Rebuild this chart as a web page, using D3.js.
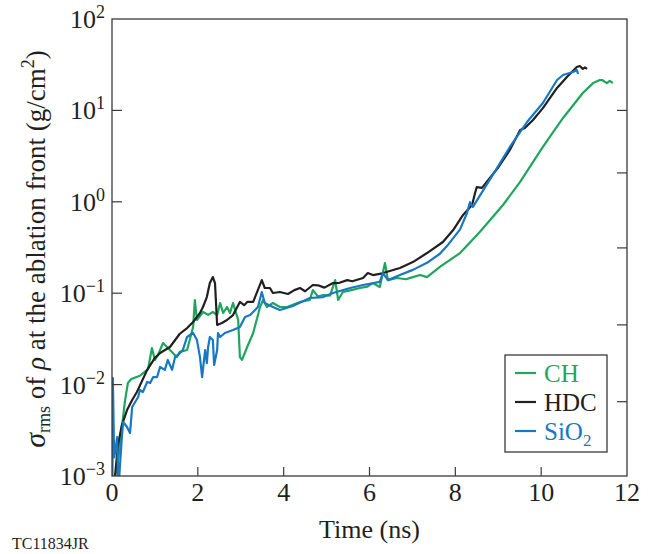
<!DOCTYPE html>
<html>
<head>
<meta charset="utf-8">
<script src="https://cdn.jsdelivr.net/npm/d3@7.9.0/dist/d3.min.js"></script>
<style>
  body { margin: 0; background: #fff; }
  svg text { font-family: "Liberation Serif", "DejaVu Serif", serif; fill: #231f20; }
  .frame { fill: none; stroke: #3a3a3a; stroke-width: 1.3; }
  .tick-mark { stroke: #3a3a3a; stroke-width: 1.2; }
  .series { fill: none; stroke-width: 2.2; stroke-linejoin: round; }
</style>
</head>
<body>
<div id="chart"></div>
<script>
// time (ns), sigma_rms (g/cm^2)
const hdcData = [
  [0.07, 0.001], [0.14, 0.00218], [0.23, 0.00361], [0.35, 0.00527], [0.47, 0.00679],
  [0.58, 0.0083], [0.82, 0.0145], [1.00, 0.0196], [1.12, 0.0222], [1.35, 0.0258],
  [1.58, 0.036], [1.75, 0.0416], [1.89, 0.0484], [2.05, 0.0607], [2.12, 0.0706],
  [2.21, 0.0908], [2.28, 0.129], [2.35, 0.150], [2.40, 0.129], [2.45, 0.0449],
  [2.56, 0.0472], [2.68, 0.0509], [2.82, 0.0577], [2.98, 0.0802], [3.08, 0.074],
  [3.15, 0.0802], [3.29, 0.0802], [3.49, 0.139], [3.56, 0.114], [3.68, 0.114],
  [3.75, 0.1005], [3.91, 0.103], [4.10, 0.098], [4.25, 0.108], [4.38, 0.114],
  [4.50, 0.105], [4.68, 0.123], [4.80, 0.122], [4.95, 0.115], [5.15, 0.129],
  [5.30, 0.130], [5.48, 0.139], [5.60, 0.135], [5.85, 0.1466], [5.96, 0.166],
  [6.08, 0.158], [6.30, 0.165], [6.55, 0.1795], [6.71, 0.189], [7.01, 0.219],
  [7.34, 0.275], [7.71, 0.363], [7.95, 0.491], [8.18, 0.718], [8.39, 0.923],
  [8.46, 1.25], [8.50, 1.45], [8.62, 1.42], [8.99, 2.34], [9.27, 3.69],
  [9.51, 6.11], [9.62, 6.41], [9.81, 7.85], [10.04, 10.6], [10.37, 17.6],
  [10.60, 23.2], [10.83, 29.8], [10.90, 30.6], [10.97, 28.5], [11.02, 29.5],
  [11.07, 28.5]
];

const sio2Data = [
  [0.01, 0.001], [0.02, 0.0118], [0.05, 0.0016], [0.07, 0.00179], [0.12, 0.00267],
  [0.14, 0.001], [0.17, 0.001], [0.23, 0.00267], [0.26, 0.0039], [0.35, 0.00344],
  [0.42, 0.00295], [0.47, 0.00569], [0.54, 0.00645], [0.61, 0.00731], [0.65, 0.00873],
  [0.72, 0.0083], [0.82, 0.0107], [0.89, 0.0104], [0.96, 0.0121], [1.05, 0.0121],
  [1.12, 0.0156], [1.23, 0.0145], [1.30, 0.0186], [1.40, 0.0145], [1.47, 0.0200],
  [1.58, 0.022], [1.65, 0.0239], [1.75, 0.0332], [1.89, 0.0367], [1.98, 0.0307],
  [2.05, 0.0200], [2.10, 0.0121], [2.17, 0.0239], [2.21, 0.0172], [2.24, 0.0258],
  [2.28, 0.0332], [2.35, 0.0307], [2.38, 0.0164], [2.45, 0.0239], [2.47, 0.0367],
  [2.52, 0.0332], [2.63, 0.0367], [2.82, 0.0396], [2.98, 0.0427], [3.10, 0.055],
  [3.22, 0.0577], [3.40, 0.0706], [3.49, 0.103], [3.56, 0.0782], [3.75, 0.0706],
  [3.91, 0.0655], [4.20, 0.072], [4.61, 0.0886], [4.92, 0.0908], [5.15, 0.1005],
  [5.55, 0.114], [5.85, 0.123], [6.24, 0.133], [6.31, 0.166], [6.43, 0.139],
  [6.71, 0.158], [7.01, 0.18], [7.34, 0.215], [7.64, 0.27], [7.81, 0.33],
  [8.11, 0.50], [8.27, 0.75], [8.34, 0.99], [8.41, 0.88], [8.97, 2.34],
  [9.27, 3.98], [9.67, 7.46], [10.04, 12.05], [10.37, 21.5], [10.51, 24.4],
  [10.74, 26.3], [10.83, 27.7], [10.86, 25.0]
];

const chData = [
  [0.07, 0.001], [0.12, 0.0012], [0.19, 0.0023], [0.26, 0.0045], [0.30, 0.0065],
  [0.37, 0.0104], [0.45, 0.0115], [0.65, 0.0125], [0.84, 0.0148], [0.93, 0.0251],
  [1.00, 0.0186], [1.07, 0.0211], [1.19, 0.0285], [1.35, 0.0239], [1.51, 0.0200],
  [1.58, 0.0228], [1.75, 0.0239], [1.89, 0.0427], [1.93, 0.0843], [1.98, 0.0509],
  [2.12, 0.0623], [2.24, 0.058], [2.35, 0.0623], [2.45, 0.0577], [2.52, 0.0782],
  [2.59, 0.0607], [2.68, 0.0706], [2.75, 0.0607], [2.82, 0.0782], [2.94, 0.0509],
  [2.98, 0.0200], [3.03, 0.0186], [3.15, 0.0258], [3.29, 0.0367], [3.45, 0.0706],
  [3.52, 0.0843], [3.61, 0.0706], [3.75, 0.0782], [3.91, 0.0706], [4.08, 0.0706],
  [4.38, 0.0802], [4.61, 0.0843], [4.68, 0.108], [4.80, 0.092], [4.92, 0.0955],
  [5.08, 0.094], [5.20, 0.139], [5.27, 0.0843], [5.38, 0.103], [5.50, 0.106],
  [5.78, 0.114], [5.95, 0.118], [6.08, 0.129], [6.24, 0.117], [6.36, 0.214],
  [6.43, 0.139], [6.64, 0.1466], [6.85, 0.142], [7.01, 0.150], [7.18, 0.158],
  [7.34, 0.150], [7.64, 0.194], [8.11, 0.275], [8.57, 0.468], [9.11, 0.923],
  [9.51, 1.65], [10.04, 3.98], [10.51, 8.26], [10.97, 15.5], [11.21, 19.9],
  [11.37, 21.5], [11.42, 21.5], [11.53, 19.9], [11.60, 21.0], [11.67, 19.9]
];

const xTicks = [0, 2, 4, 6, 8, 10, 12];
const yTickExps = [2, 1, 0, -1, -2, -3];
const rightTicks = [10, 2.07, 0.313, 0.045, 0.0065];
const legendLabels = ["CH", "HDC", "SiO"];
const seriesColors = ["#1ea65c", "#231f20", "#1878c3"];

const W = 651, H = 554;
const margin = { left: 112, right: 24, top: 19, bottom: 78 };
const iw = W - margin.left - margin.right;
const ih = H - margin.top - margin.bottom;

const svg = d3.select("#chart").append("svg")
  .attr("width", W)
  .attr("height", H);

const g = svg.append("g")
  .attr("transform", `translate(${margin.left},${margin.top})`);

const x = d3.scaleLinear().domain([0, 12]).range([0, iw]);
const y = d3.scaleLog().domain([1e-3, 1e2]).range([ih, 0]);

svg.append("clipPath").attr("id", "plotclip")
  .append("rect").attr("width", iw).attr("height", ih);

const line = d3.line()
  .x(d => x(d[0]))
  .y(d => y(d[1]));

const plot = g.append("g").attr("clip-path", "url(#plotclip)");
[chData, hdcData, sio2Data].forEach((data, i) => {
  plot.append("path")
    .attr("class", "series")
    .attr("stroke", seriesColors[i])
    .attr("d", line(data));
});

// frame
g.append("rect")
  .attr("class", "frame")
  .attr("width", iw)
  .attr("height", ih);

// bottom ticks (inward)
g.selectAll("line.xtick")
  .data(xTicks.slice(1, -1))
  .join("line")
  .attr("class", "tick-mark")
  .attr("x1", d => x(d)).attr("x2", d => x(d))
  .attr("y1", ih).attr("y2", ih - 9);

g.selectAll("text.xlabel")
  .data(xTicks)
  .join("text")
  .attr("class", "xlabel")
  .attr("x", d => x(d))
  .attr("y", ih + 25)
  .attr("text-anchor", "middle")
  .attr("font-size", 26)
  .text(d => d);

// left ticks (inward)
g.selectAll("line.ytick")
  .data(yTickExps.slice(1, -1))
  .join("line")
  .attr("class", "tick-mark")
  .attr("x1", 0).attr("x2", 10)
  .attr("y1", e => y(Math.pow(10, e))).attr("y2", e => y(Math.pow(10, e)));

// right ticks (inward)
g.selectAll("line.rtick")
  .data(rightTicks)
  .join("line")
  .attr("class", "tick-mark")
  .attr("x1", iw).attr("x2", iw - 10)
  .attr("y1", d => y(d)).attr("y2", d => y(d));

const ylab = g.selectAll("text.ylabel")
  .data(yTickExps)
  .join("text")
  .attr("class", "ylabel")
  .attr("x", -7)
  .attr("y", e => y(Math.pow(10, e)) + 9)
  .attr("text-anchor", "end")
  .attr("font-size", 26);
ylab.append("tspan").text("10");
ylab.append("tspan")
  .attr("font-size", 18)
  .attr("dy", -10)
  .text(e => e < 0 ? "\u2212" + (-e) : e);

// axis titles
svg.append("text")
  .attr("x", margin.left + iw / 2)
  .attr("y", 538)
  .attr("text-anchor", "middle")
  .attr("font-size", 26)
  .text("Time (ns)");

const yt = svg.append("text")
  .attr("transform", "translate(45,249) rotate(-90)")
  .attr("text-anchor", "middle")
  .attr("font-size", 27);
yt.append("tspan").attr("font-style", "italic").attr("font-size", 30).text("\u03c3");
yt.append("tspan").attr("font-size", 18).attr("dy", 5).text("rms");
yt.append("tspan").attr("dy", -5).text(" of ");
yt.append("tspan").attr("font-style", "italic").text("\u03c1");
yt.append("tspan").text(" at the ablation front (g/cm");
yt.append("tspan").attr("font-size", 18).attr("dy", -11).text("2");
yt.append("tspan").attr("dy", 11).text(")");

svg.append("text")
  .attr("x", 12)
  .attr("y", 549)
  .attr("font-size", 16)
  .text("TC11834JR");

// legend
const lg = svg.append("g").attr("transform", "translate(505,355)");
lg.append("rect")
  .attr("width", 102).attr("height", 97)
  .attr("fill", "#fff")
  .attr("stroke", "#3a3a3a")
  .attr("stroke-width", 1.3);

const rows = lg.selectAll("g.row")
  .data(legendLabels)
  .join("g")
  .attr("class", "row")
  .attr("transform", (d, i) => `translate(0,${18 + i * 29})`);

rows.append("line")
  .attr("x1", 10).attr("x2", 31)
  .attr("y1", 0).attr("y2", 0)
  .attr("stroke", (d, i) => seriesColors[i])
  .attr("stroke-width", 2.2);

const lt = rows.append("text")
  .attr("x", 39)
  .attr("y", 9)
  .attr("font-size", 25)
  .style("fill", (d, i) => seriesColors[i]);
lt.append("tspan").text(d => d);
lt.filter(d => d === "SiO").append("tspan")
  .attr("font-size", 17)
  .attr("dy", 6)
  .text("2");
</script>
</body>
</html>
